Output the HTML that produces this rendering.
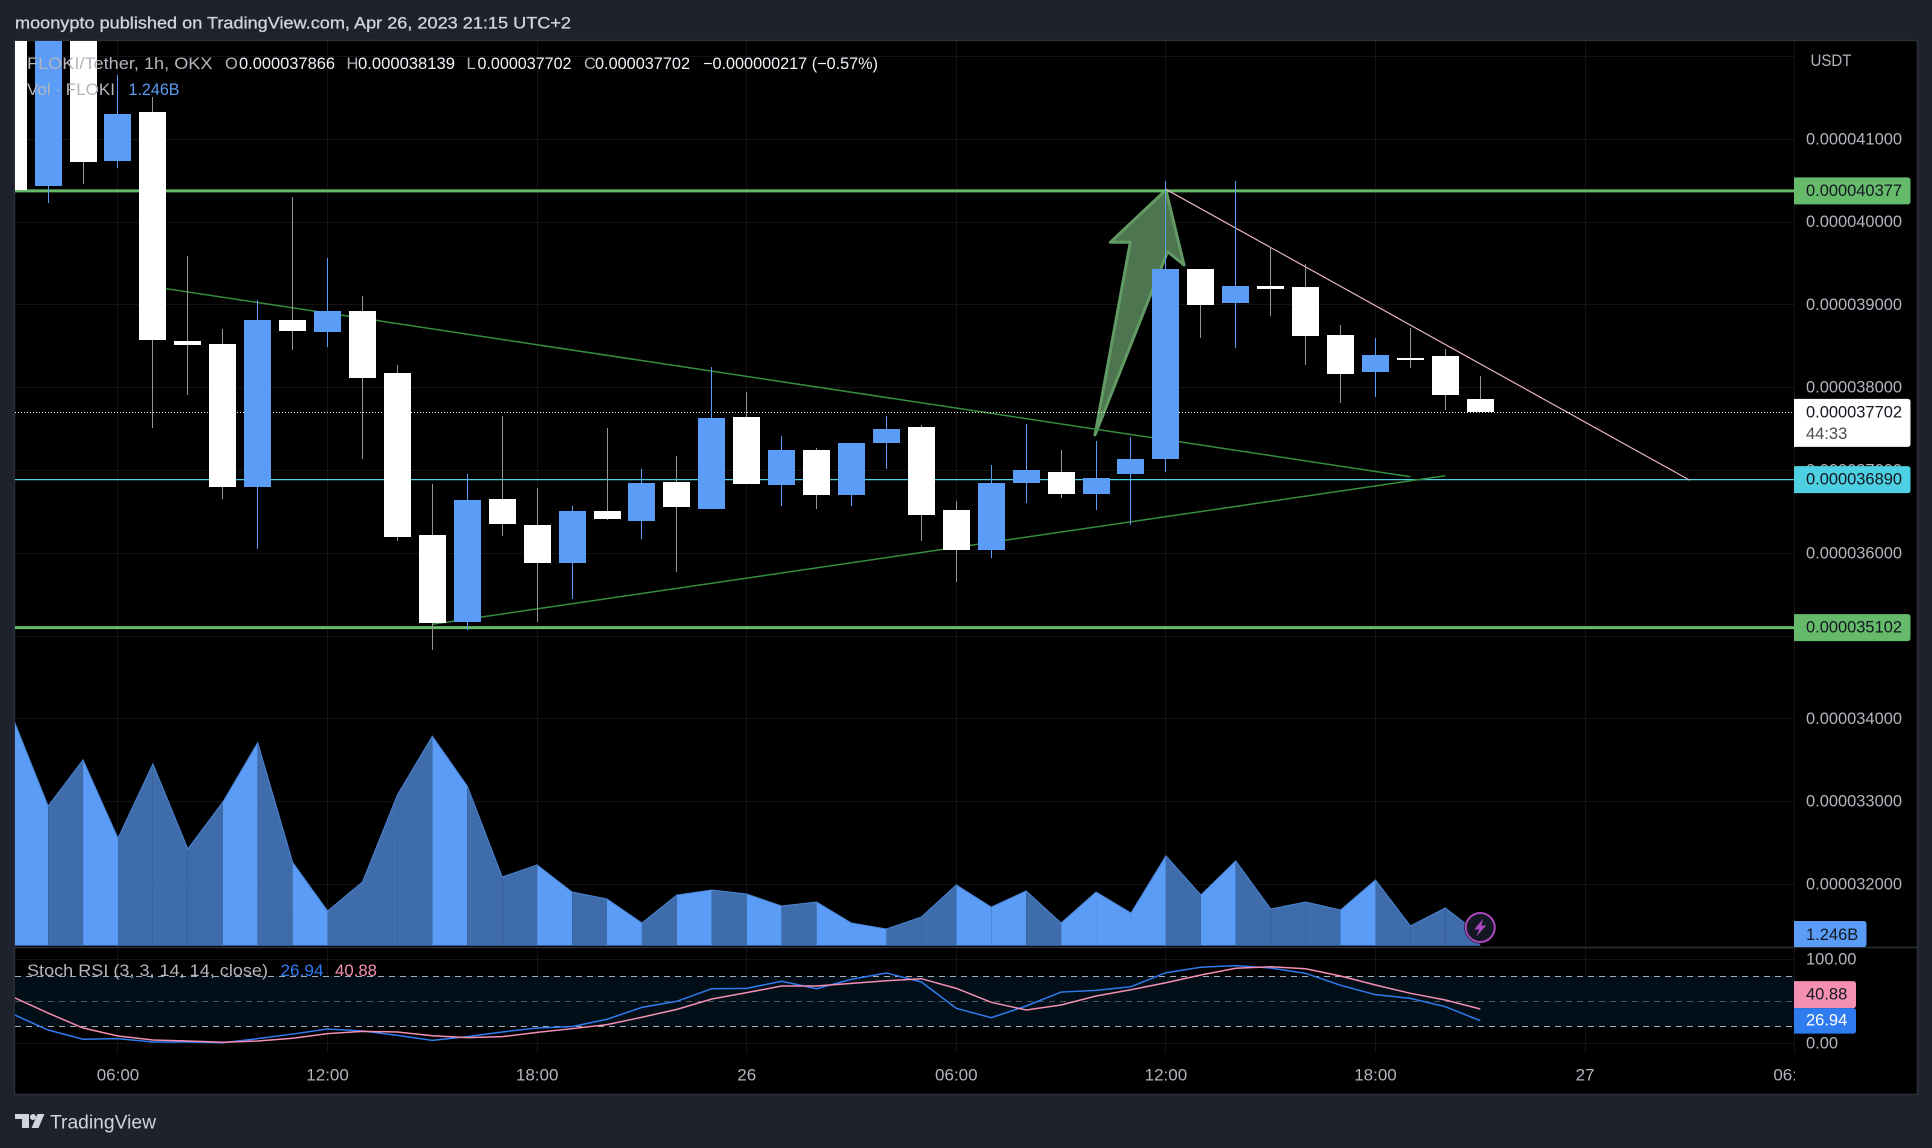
<!DOCTYPE html>
<html lang="en">
<head>
<meta charset="utf-8">
<title>FLOKI/Tether 1h chart</title>
<style>
html,body{margin:0;padding:0;background:#1e222d;}
body{width:1932px;height:1148px;overflow:hidden;}
svg{display:block;font-family:"Liberation Sans",sans-serif;}
text{dominant-baseline:central;}
.axis{fill:#b2b5be;font-size:16.5px;}
.dark{fill:#131722;font-size:16.5px;}
</style>
</head>
<body>
<svg id="root" width="1932" height="1148" viewBox="0 0 1932 1148" xmlns="http://www.w3.org/2000/svg">
  <defs>
    <clipPath id="clip-main"><rect x="15" y="41" width="1779" height="906"/></clipPath>
    <clipPath id="clip-stoch"><rect x="15" y="948" width="1779" height="105"/></clipPath>
    <clipPath id="clip-time"><rect x="15" y="1053" width="1780" height="41"/></clipPath>
  </defs>
  <rect x="0" y="0" width="1932" height="1148" fill="#1e222d"/>
  <text x="15" y="23" fill="#d1d4dc" stroke="#d1d4dc" stroke-width="0.3" font-size="17" textLength="556" lengthAdjust="spacingAndGlyphs">moonypto published on TradingView.com, Apr 26, 2023 21:15 UTC+2</text>
  <rect x="14.5" y="40.5" width="1903" height="1054" fill="#000" stroke="#2a2e39" stroke-width="1.5"/>
  <g id="grid"></g>
  <g id="stoch-back" clip-path="url(#clip-stoch)"></g>
  <g id="drawings" clip-path="url(#clip-main)"></g>
  <g id="volume" clip-path="url(#clip-main)"></g>
  <g id="candles" clip-path="url(#clip-main)"></g>
  <g id="stoch" clip-path="url(#clip-stoch)"></g>
  <line x1="15" x2="1917" y1="947.5" y2="947.5" stroke="#2a2e39" stroke-width="1.5"/>
  <g id="ticks"></g>
  <text class="axis" x="1810.5" y="61" textLength="41" lengthAdjust="spacingAndGlyphs">USDT</text>

  <g font-size="16.5">
    <text x="27" y="64" fill="#b2b5be" textLength="185.5" lengthAdjust="spacingAndGlyphs">FLOKI/Tether, 1h, OKX</text>
    <text x="225" y="64" fill="#b2b5be">O</text>
    <text x="239" y="64" fill="#f0f3fa" textLength="96" lengthAdjust="spacingAndGlyphs">0.000037866</text>
    <text x="346.5" y="64" fill="#b2b5be">H</text>
    <text x="358" y="64" fill="#f0f3fa" textLength="97" lengthAdjust="spacingAndGlyphs">0.000038139</text>
    <text x="466.5" y="64" fill="#b2b5be">L</text>
    <text x="477.5" y="64" fill="#f0f3fa" textLength="94" lengthAdjust="spacingAndGlyphs">0.000037702</text>
    <text x="584" y="64" fill="#b2b5be">C</text>
    <text x="595" y="64" fill="#f0f3fa" textLength="95" lengthAdjust="spacingAndGlyphs">0.000037702</text>
    <text x="703" y="64" fill="#f0f3fa" textLength="175" lengthAdjust="spacingAndGlyphs">−0.000000217 (−0.57%)</text>
    <text x="27" y="90" fill="#b2b5be" textLength="88" lengthAdjust="spacingAndGlyphs">Vol · FLOKI</text>
    <text x="128.5" y="90" fill="#5b9cf6" textLength="51" lengthAdjust="spacingAndGlyphs">1.246B</text>
    <text x="27" y="971" fill="#b2b5be" textLength="241" lengthAdjust="spacingAndGlyphs">Stoch RSI (3, 3, 14, 14, close)</text>
    <text x="280.5" y="971" fill="#2f7bf0" textLength="43" lengthAdjust="spacingAndGlyphs">26.94</text>
    <text x="335" y="971" fill="#f48fb1" textLength="42" lengthAdjust="spacingAndGlyphs">40.88</text>
  </g>

  <g id="bolt"></g>

  <g id="price-tags"></g>

  <g>
    <path d="M15 1114h14v14h-7v-9h-7z" fill="#d1d4dc"/>
    <circle cx="33" cy="1117" r="3" fill="#d1d4dc"/>
    <path d="M37.5 1114H44.5L38.5 1128H31.5z" fill="#d1d4dc"/>
    <text x="50" y="1123" fill="#d1d4dc" font-size="19" textLength="106" lengthAdjust="spacingAndGlyphs">TradingView</text>
  </g>
</svg>
<script>
/* Prices are in units of 1e-9 USDT */
const opens = [43000,40440,42600,40742,41330,38564,38528,36801,38818,38673,38926,38178,36221,35170,36656,36342,35883,36511,36390,36861,36535,37646,36825,37248,36704,37332,37525,36523,36040,36849,36982,36716,36958,37139,39434,39023,39228,39216,38637,38190,38359,38383,37866];
const highs = [43300,43000,43000,41777,41507,39591,38709,39059,40303,39566,39108,38274,36837,36958,37658,36789,36571,37513,37018,37175,38250,37948,37417,37272,37332,37658,37550,36632,37067,37562,37248,37356,37405,40496,39434,40496,39699,39494,38757,38600,38721,38467,38139];
const lows = [40388,40234,40464,40657,37517,37916,36656,36056,38455,38492,37139,36149,34832,35074,36209,35170,35448,36402,36173,35774,36535,36837,36571,36535,36571,37018,36149,35654,35943,36608,36668,36523,36342,36982,38600,38480,38866,38274,37815,37888,38238,37731,37702];
const closes = [40388,43000,40729,41306,38580,38516,36801,38818,38685,38926,38117,36197,35158,36644,36354,35883,36511,36414,36849,36559,37634,36837,37248,36704,37332,37501,36463,36040,36849,37006,36716,36910,37139,39434,38999,39228,39192,38624,38166,38395,38335,37912,37702];
const volumes = [28.2,17.3,23.05,13.3,22.55,11.96,17.8,25.2,10.3,4.24,7.85,18.7,26.0,19.8,8.47,9.97,6.6,5.73,2.74,6.23,6.85,6.35,4.86,5.36,2.74,1.99,3.49,7.48,4.73,6.73,2.74,6.6,3.99,11.1,6.23,10.47,4.49,5.36,4.36,8.1,2.37,4.61,1.246];
const stochK = [34.5,15.8,4.8,5.5,1.5,1.5,0.7,5.5,11,17,14.6,9.5,3.5,7.9,13.5,18.2,19.8,28.6,42.8,50,65,65.4,73.8,65,76.2,83.7,73,41.6,30.5,44.4,61,63,67.4,84,90.5,92.4,89.6,83.3,69,57.9,53.5,43.6,26.94];
const stochD = [55,36,18.2,8.7,3.9,2.7,1.2,2.7,6,11.5,14.2,13.5,9,6.7,7.9,13,17.4,22.2,31,40.4,52.7,60.3,68.2,68.2,71.4,74.5,76.9,65.4,48.8,39.6,45.6,56.3,63.8,72.1,81.3,89.3,91.2,88.8,80.1,69.4,59.5,51.5,40.88];
const priceGridTicks = [42000,41000,40000,39000,38000,37000,36000,35000,34000,33000,32000];
const priceLabelTicks = [41000,40000,39000,38000,37000,36000,35000,34000,33000,32000];
const stochTicks = [100,0];
const stochBands = [80,50,20];
const timeTickBars = [3,9,15,21,27,33,39,45,51];
const timeTickLabels = ['06:00','12:00','18:00','26','06:00','12:00','18:00','27','06:00'];
const supportLevels = [40377,35102];
const midLevel = 36890;
const fallingWedgeLine = [[4,39220],[40,36925]];
const risingWedgeLine = [[12,35143],[41,36937]];
const pinkTrendLine = [[33,40396],[48,36882]];
const arrowShape = [[33,40388],[31.41,39756],[31.98,39756],[30.97,37429],[33.05,39643],[33.52,39482]];
const lastVolumeLabel = '1.246B';
const countdownLabel = '44:33';

function xAt(i){ return 13.2 + 34.93 * i; }
function yPrice(p){ return 139.3 + (41000 - p) * 0.0828; }
function yVol(v){ return 945 - v * 8.03; }
function yStoch(s){ return 1043.3 - s * 0.84; }
function priceText(p){ return (p / 1e9).toFixed(9); }

const NS = 'http://www.w3.org/2000/svg';
function make(tag, attrs, parent){
  const e = document.createElementNS(NS, tag);
  for (const k in attrs) e.setAttribute(k, attrs[k]);
  parent.appendChild(e);
  return e;
}
const gGrid = document.getElementById('grid');
const gBack = document.getElementById('stoch-back');
const gDraw = document.getElementById('drawings');
const gVol = document.getElementById('volume');
const gCandles = document.getElementById('candles');
const gStoch = document.getElementById('stoch');
const gTicks = document.getElementById('ticks');
const gTags = document.getElementById('price-tags');
const gBolt = document.getElementById('bolt');
const GRID = '#131314';

/* grid + axis labels */
priceGridTicks.forEach(function(p){
  const y = Math.floor(yPrice(p)) + 0.5;
  const ln = make('line', {x1:15, x2:1794, y1:y, y2:y, stroke:GRID, 'stroke-width':1}, gGrid);
  
  
});
priceLabelTicks.forEach(function(p){
  const t = make('text', {x:1806, y:yPrice(p), class:'axis', textLength:96, lengthAdjust:'spacingAndGlyphs'}, gTicks);
  t.textContent = priceText(p);
  
  
});
stochTicks.forEach(function(s){
  const y = Math.floor(yStoch(s)) + 0.5;
  const ln = make('line', {x1:15, x2:1794, y1:y, y2:y, stroke:GRID, 'stroke-width':1}, gGrid);
  
  
  const t = make('text', {x:1806, y:yStoch(s), class:'axis'}, gTicks);
  t.textContent = s.toFixed(2);
  
  
});
const timeClip = make('g', {'clip-path':'url(#clip-time)'}, gTicks);


timeTickBars.forEach(function(b, i){
  const x = Math.floor(xAt(b)) + 0.5;
  const ln = make('line', {x1:x, x2:x, y1:41, y2:1053, stroke:GRID, 'stroke-width':1}, gGrid);
  
  
  const t = make('text', {x:xAt(b), y:1075, fill:'#b2b5be', 'font-size':'17px', 'text-anchor':'middle'}, timeClip);
  t.textContent = timeTickLabels[i];
  
  
});

/* stoch band */
const band = make('rect', {x:15, width:1779, y:yStoch(stochBands[0]), height:yStoch(stochBands[2]) - yStoch(stochBands[0]), fill:'#030f18'}, gBack);


stochBands.forEach(function(s, i){
  const y = Math.floor(yStoch(s)) + 0.5;
  const ln = make('line', {x1:15, x2:1794, y1:y, y2:y, stroke:i === 1 ? '#4a5a60' : '#a8abb3', 'stroke-width':1, 'stroke-dasharray':'6 5'}, gBack);
  
  
});

/* drawings */
const arrowPts = arrowShape.map(function(a){ return xAt(a[0]) + ',' + yPrice(a[1]); }).join(' ');
const arrow = make('polygon', {points:arrowPts, fill:'#4d7650', stroke:'#619a63', 'stroke-width':3, 'stroke-linejoin':'round'}, gDraw);



supportLevels.forEach(function(p){
  const y = yPrice(p);
  const ln = make('line', {x1:15, x2:1794, y1:y, y2:y, stroke:'#66bb6a', 'stroke-width':3}, gDraw);
  
  
});
const mid = make('line', {x1:15, x2:1794, y1:yPrice(midLevel), y2:yPrice(midLevel), stroke:'#4dd0e1', 'stroke-width':1.3}, gDraw);



const fall = make('line', {x1:xAt(fallingWedgeLine[0][0]), y1:yPrice(fallingWedgeLine[0][1]), x2:xAt(fallingWedgeLine[1][0]), y2:yPrice(fallingWedgeLine[1][1]), stroke:'#388e3c', 'stroke-width':1.5}, gDraw);


const rise = make('line', {x1:xAt(risingWedgeLine[0][0]), y1:yPrice(risingWedgeLine[0][1]), x2:xAt(risingWedgeLine[1][0]), y2:yPrice(risingWedgeLine[1][1]), stroke:'#388e3c', 'stroke-width':1.5}, gDraw);


const pink = make('line', {x1:xAt(pinkTrendLine[0][0]), y1:yPrice(pinkTrendLine[0][1]), x2:xAt(pinkTrendLine[1][0]), y2:yPrice(pinkTrendLine[1][1]), stroke:'#e4b4bc', 'stroke-width':1.2}, gDraw);



const lastClose = closes[closes.length - 1];
const lastLine = make('line', {x1:15, x2:1794, y1:Math.floor(yPrice(lastClose)) + 0.5, y2:Math.floor(yPrice(lastClose)) + 0.5, stroke:'#fff', 'stroke-width':1, 'stroke-dasharray':'1 2'}, gDraw);



/* volume segments: each takes the colour of the bar it ends on */
const LIGHT = '#5b9cf6', DARK = '#3f6caa';
for (let i = 0; i < volumes.length - 1; i++) {
  const up = closes[i + 1] >= opens[i + 1];
  const x1 = xAt(i), x2 = xAt(i + 1);
  const seg = make('polygon', {points:x1 + ',945 ' + x1 + ',' + yVol(volumes[i]) + ' ' + x2 + ',' + yVol(volumes[i + 1]) + ' ' + x2 + ',945', fill:up ? LIGHT : DARK}, gVol);
  
  
}
const volLine = make('polyline', {points:volumes.map(function(v, i){ return xAt(i) + ',' + yVol(v); }).join(' '), fill:'none', stroke:'#4b84d4', 'stroke-width':1}, gVol);


const volBase = make('line', {x1:15, x2:xAt(volumes.length - 1), y1:945.5, y2:945.5, stroke:'#2f5a96', 'stroke-width':1}, gVol);



/* candles */
opens.forEach(function(o, i){
  const c = closes[i];
  const up = c >= o;
  const col = up ? LIGHT : '#ffffff';
  const cx = xAt(i);
  const wick = make('rect', {x:Math.floor(cx), width:1, y:Math.round(yPrice(highs[i])), height:Math.max(1, Math.round(yPrice(lows[i])) - Math.round(yPrice(highs[i]))), fill:up ? LIGHT : '#969696'}, gCandles);
  
  
  const top = Math.round(yPrice(Math.max(o, c)));
  const bot = Math.round(yPrice(Math.min(o, c)));
  const body = make('rect', {x:Math.floor(cx) - 13, width:27, y:top, height:Math.max(2, bot - top), fill:col}, gCandles);
  
  
});

/* stoch lines */
const kLine = make('polyline', {points:stochK.map(function(v, i){ return xAt(i) + ',' + yStoch(v); }).join(' '), fill:'none', stroke:'#2f7bf0', 'stroke-width':1.5}, gStoch);


const dLine = make('polyline', {points:stochD.map(function(v, i){ return xAt(i) + ',' + yStoch(v); }).join(' '), fill:'none', stroke:'#f48fb1', 'stroke-width':1.5}, gStoch);



/* bolt icon */
const bx = xAt(volumes.length - 1), by = 927.5;
const boltRing = make('circle', {cx:bx, cy:by, r:15.5, fill:'#131722', stroke:'#000', 'stroke-width':1}, gBolt);


const boltCircle = make('circle', {cx:bx, cy:by, r:14.5, fill:'#131722', stroke:'#ab47bc', 'stroke-width':2}, gBolt);


const boltGlyph = make('polygon', {points:[[3,-9],[-6,2],[-1,2],[-4,9],[6,-2],[1,-2]].map(function(p){ return (bx + p[0]) + ',' + (by + p[1]); }).join(' '), fill:'#ab47bc'}, gBolt);



/* price tags */
function tagPath(x, y, w, h){
  return 'M' + x + ' ' + y + 'h' + (w - 3) + 'q3 0 3 3v' + (h - 6) + 'q0 3 -3 3h-' + (w - 3) + 'z';
}
supportLevels.forEach(function(p){
  const y = yPrice(p);
  const tag = make('path', {d:tagPath(1794, y - 13.5, 116.5, 27), fill:'#66bb6a'}, gTags);
  
  
  const t = make('text', {x:1806, y:y, class:'dark', textLength:96, lengthAdjust:'spacingAndGlyphs'}, gTags);
  t.textContent = priceText(p);
  
  
});
const midY = yPrice(midLevel);
const midTag = make('path', {d:tagPath(1794, midY - 13.5, 116.5, 27), fill:'#4dd0e1'}, gTags);


const midText = make('text', {x:1806, y:midY, class:'dark', textLength:96, lengthAdjust:'spacingAndGlyphs'}, gTags);
midText.textContent = priceText(midLevel);



const lastY = yPrice(lastClose);
const lastTag = make('path', {d:tagPath(1794, lastY - 13.5, 116.5, 48), fill:'#ffffff'}, gTags);


const lastText = make('text', {x:1806, y:lastY, class:'dark', textLength:96, lengthAdjust:'spacingAndGlyphs'}, gTags);
lastText.textContent = priceText(lastClose);


const countdown = make('text', {x:1806, y:lastY + 21.5, fill:'#4a4a4a', 'font-size':'16.5px'}, gTags);
countdown.textContent = countdownLabel;



const volY = yVol(volumes[volumes.length - 1]);
const volTag = make('path', {d:tagPath(1794, volY - 14, 72.5, 26), fill:'#5b9cf6'}, gTags);


const volText = make('text', {x:1806, y:volY, class:'dark'}, gTags);
volText.textContent = lastVolumeLabel;



/* stoch tags are stacked: the pink tag sits directly on top of the blue one */
const dVal = stochD[stochD.length - 1], kVal = stochK[stochK.length - 1];
const kTagTop = yStoch(kVal) - 12.5;
const dTagTop = kTagTop - 27;
const dTag = make('path', {d:tagPath(1794, dTagTop, 62, 27), fill:'#f48fb1'}, gTags);


const dText = make('text', {x:1806, y:dTagTop + 13.5, class:'dark'}, gTags);
dText.textContent = dVal.toFixed(2);


const kTag = make('path', {d:tagPath(1794, kTagTop, 62, 25.5), fill:'#2f7bf0'}, gTags);


const kText = make('text', {x:1806, y:yStoch(kVal), fill:'#ffffff', 'font-size':'16.5px'}, gTags);
kText.textContent = kVal.toFixed(2);


</script>
</body>
</html>
